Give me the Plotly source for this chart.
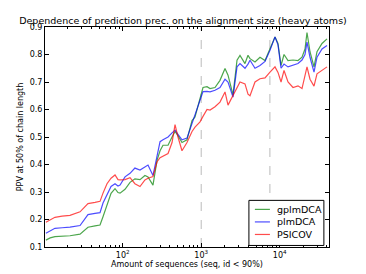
import plotly.graph_objects as go

# Amount of sequences (x) -- common sampling grid
n_seqs = [10.5, 11.9, 13.7, 16.9, 21.3, 28.6, 36.1, 44.4, 51.4, 56.1, 63.1, 71.0, 79.8, 87.1,
          92.5, 107, 124, 143, 166, 192, 210, 243, 274, 299, 326, 378, 425, 464, 506, 569,
          659, 764, 834, 966, 1054, 1186, 1295, 1499, 1735, 2010, 2195, 2542, 2858, 3120,
          3612, 3945, 4185, 4845, 5610, 6500, 7520, 8710, 9510, 10400, 11350, 12760, 14770,
          17100, 19230, 21000, 22270, 24320, 27350, 29860, 34600, 40070]

psicov = [0.19, 0.20, 0.208, 0.212, 0.215, 0.228, 0.258, 0.262, 0.266, 0.296, 0.33, 0.35, 0.362, 0.345,
          0.344, 0.345, 0.352, 0.33, 0.32, 0.344, 0.35, 0.356, 0.41, 0.425, 0.43, 0.44, 0.48, 0.545, 0.50, 0.45,
          0.48, 0.52, 0.536, 0.555, 0.575, 0.60, 0.598, 0.61, 0.627, 0.664, 0.616, 0.653, 0.68, 0.70,
          0.693, 0.656, 0.65, 0.70, 0.712, 0.715, 0.736, 0.755, 0.735, 0.70, 0.742, 0.70, 0.68,
          0.686, 0.676, 0.72, 0.755, 0.71, 0.685, 0.73, 0.742, 0.755]

plmdca = [0.15, 0.16, 0.168, 0.170, 0.172, 0.178, 0.218, 0.222, 0.225, 0.26, 0.29, 0.32, 0.33, 0.322,
          0.325, 0.355, 0.368, 0.387, 0.38, 0.39, 0.398, 0.36, 0.43, 0.483, 0.49, 0.50, 0.515, 0.525, 0.51, 0.49,
          0.496, 0.55, 0.585, 0.635, 0.665, 0.666, 0.664, 0.67, 0.68, 0.71, 0.70, 0.645, 0.755, 0.767,
          0.75, 0.765, 0.779, 0.75, 0.76, 0.775, 0.815, 0.864, 0.835, 0.75, 0.765, 0.755, 0.76,
          0.767, 0.78, 0.80, 0.845, 0.79, 0.736, 0.79, 0.82, 0.833]

gplmdca = [0.125, 0.133, 0.138, 0.140, 0.141, 0.147, 0.172, 0.177, 0.180, 0.21, 0.25, 0.295, 0.312, 0.298,
           0.296, 0.31, 0.335, 0.348, 0.345, 0.36, 0.355, 0.325, 0.416, 0.45, 0.47, 0.47, 0.50, 0.52, 0.505, 0.48,
           0.49, 0.56, 0.573, 0.645, 0.68, 0.683, 0.676, 0.68, 0.706, 0.749, 0.725, 0.653, 0.779, 0.797,
           0.767, 0.797, 0.785, 0.773, 0.79, 0.778, 0.818, 0.864, 0.84, 0.76, 0.80, 0.778, 0.78,
           0.778, 0.79, 0.82, 0.88, 0.81, 0.755, 0.81, 0.84, 0.857]

series_names = ["gplmDCA", "plmDCA", "PSICOV"]
series_colors = ["rgba(0,128,0,0.7)", "rgba(0,0,255,0.7)", "rgba(255,0,0,0.7)"]
series_values = [gplmdca, plmdca, psicov]

ref_lines = [1000, 7500]

y_ticks = [0.1, 0.2, 0.3, 0.4, 0.5, 0.6, 0.7, 0.8, 0.9]
x_ticks = [100, 1000, 10000]
x_ticktext = ["10<sup>2</sup>", "10<sup>3</sup>", "10<sup>4</sup>"]
minor_ticks = [m * 10 ** e for e in range(1, 5) for m in range(2, 10)]

font_family = "DejaVu Sans"

fig = go.Figure()
for name, color, vals in zip(series_names, series_colors, series_values):
    fig.add_trace(go.Scatter(x=n_seqs, y=vals, mode="lines", name=name,
                             line=dict(color=color, width=1.2), showlegend=False))

for xv in ref_lines:
    fig.add_shape(type="line", x0=xv, x1=xv, y0=0, y1=1, xref="x", yref="paper",
                  line=dict(color="#bbbbbb", width=1, dash="dash"), layer="below")

# Legend (matplotlib-style compact box, lower right)
leg_x0, leg_x1, leg_y0, leg_y1 = 0.718, 0.982, 0.007, 0.212
leg_line_x0, leg_line_x1, leg_text_x = 0.739, 0.792, 0.810
leg_rows = [0.171, 0.114, 0.057]
fig.add_shape(type="rect", xref="paper", yref="paper", x0=leg_x0, x1=leg_x1, y0=leg_y0, y1=leg_y1,
              line=dict(color="black", width=1), fillcolor="white", layer="above")
for name, color, yr in zip(series_names, series_colors, leg_rows):
    fig.add_shape(type="line", xref="paper", yref="paper", x0=leg_line_x0, x1=leg_line_x1, y0=yr, y1=yr,
                  line=dict(color=color, width=1.2), layer="above")
    fig.add_annotation(xref="paper", yref="paper", x=leg_text_x, y=yr, text=name, showarrow=False,
                       xanchor="left", yanchor="middle", font=dict(size=9.5, family=font_family))

fig.update_layout(
    width=366, height=274,
    margin=dict(l=45, r=37, t=27, b=27),
    paper_bgcolor="white", plot_bgcolor="white",
    font=dict(family=font_family, size=8, color="black"),
    title=dict(text="Dependence of prediction prec. on the alignment size (heavy atoms)",
               x=0.5, xanchor="center", y=1 - 21 / 274, yanchor="middle", yref="container",
               font=dict(size=9.5, family=font_family)),
    showlegend=False,
    xaxis=dict(type="log", range=[1.01, 4.628], showgrid=False, zeroline=False, automargin=False,
               showline=True, linecolor="black", linewidth=1, mirror="allticks",
               ticks="inside", ticklen=4, tickcolor="black",
               tickvals=x_ticks, ticktext=x_ticktext,
               minor=dict(ticks="inside", ticklen=2, tickcolor="black", tickvals=minor_ticks),
               title=dict(text="Amount of sequences (seq, id < 90%)", standoff=2, font=dict(size=8))),
    yaxis=dict(range=[0.1, 0.9], showgrid=False, zeroline=False, automargin=False,
               showline=True, linecolor="black", linewidth=1, mirror="allticks",
               ticks="inside", ticklen=4, tickcolor="black",
               tickvals=y_ticks, ticktext=[f"{v:.1f}" for v in y_ticks],
               title=dict(text="PPV at 50% of chain length", standoff=4, font=dict(size=8))),
)

fig.write_html("out.html", config={"displayModeBar": False},
               post_script="document.body.style.margin='0';document.body.style.overflow='hidden';")
